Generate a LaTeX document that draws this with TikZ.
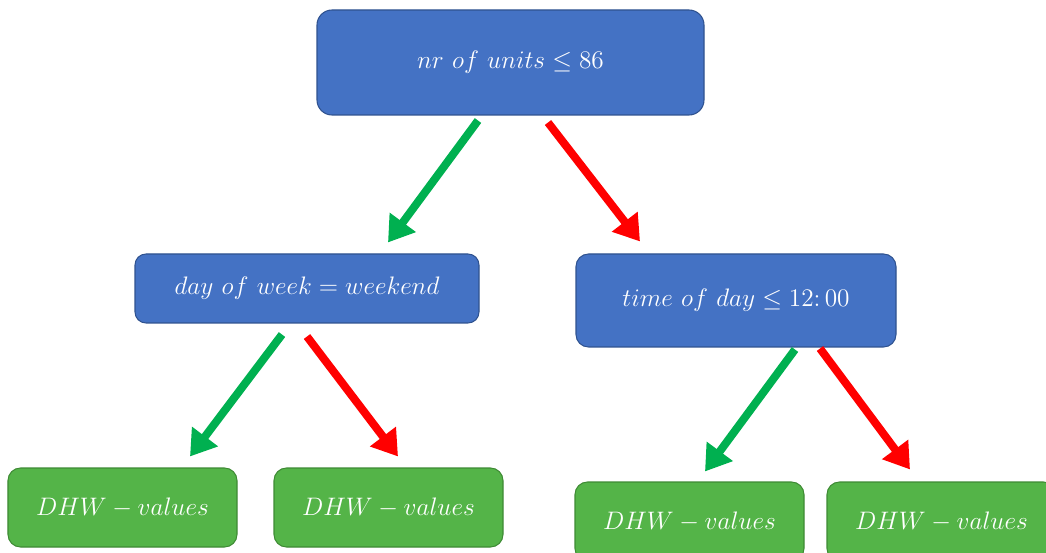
\documentclass[tikz,border=0pt]{standalone}
\usepackage{tikz}
\usetikzlibrary{arrows.meta, positioning}
\definecolor{splitblue}{HTML}{4472C4}
\definecolor{splitborder}{HTML}{2F528F}
\definecolor{leafgreen}{HTML}{54B448}
\definecolor{leafborder}{HTML}{3E8A34}
\definecolor{yesgreen}{HTML}{00B050}
\definecolor{nored}{HTML}{FF0000}

\begin{document}
\begin{tikzpicture}[every node/.style={text=white, font=\fontsize{14.5}{16}\selectfont, inner sep=0pt},
        split/.style={draw=splitborder, fill=splitblue, rounded corners=0.3cm, line width=0.6pt},
        leaf/.style={draw=leafborder, fill=leafgreen, rounded corners=0.25cm, minimum width=4.58cm, minimum height=1.58cm, line width=0.6pt},
        yes/.style={draw=yesgreen, line width=0.16cm, -{Triangle[width=0.62cm, length=0.5cm]}},
        no/.style={yes, draw=nored}]
        \useasboundingbox (0,0) rectangle (20.92,-11.06);
        \clip (0,0) rectangle (20.92,-11.06);

        \node[split, minimum width=7.74cm, minimum height=2.1cm] (root) at (10.21,-1.25) {$nr\ of\ units \leq 86$};
        \node[split, minimum width=6.88cm, minimum height=1.38cm, rounded corners=0.22cm] (left) at (6.14,-5.77) {$day\ of\ week = weekend$};
        \node[split, minimum width=6.4cm, minimum height=1.86cm, rounded corners=0.25cm] (right) at (14.72,-6.01) {$time\ of\ day \leq 12\mathpunct{:}00$};

        \node[leaf] (ll) at (2.45,-10.15) {$DHW - values$};
        \node[leaf] (lr) at (7.77,-10.15) {$DHW - values$};
        \node[leaf] (rl) at (13.79,-10.43) {$DHW - values$};
        \node[leaf] (rr) at (18.83,-10.43) {$DHW - values$};

        \draw[yes] ([xshift=-0.65cm, yshift=-0.1cm]root.south) -- ([xshift=1.62cm, yshift=0.22cm]left.north);
        \draw[no] ([xshift=0.75cm, yshift=-0.14cm]root.south) -- ([xshift=-1.92cm, yshift=0.24cm]right.north);
        \draw[yes] ([xshift=-0.5cm, yshift=-0.22cm]left.south) -- ([xshift=1.35cm, yshift=0.22cm]ll.north);
        \draw[no] ([xshift=0cm, yshift=-0.26cm]left.south) -- ([xshift=0.19cm, yshift=0.22cm]lr.north);
        \draw[yes] ([xshift=1.18cm, yshift=-0.04cm]right.south) -- ([xshift=0.31cm, yshift=0.2cm]rl.north);
        \draw[no] ([xshift=1.68cm, yshift=-0.02cm]right.south) -- ([xshift=-0.63cm, yshift=0.24cm]rr.north);
    \end{tikzpicture}
\end{document}
